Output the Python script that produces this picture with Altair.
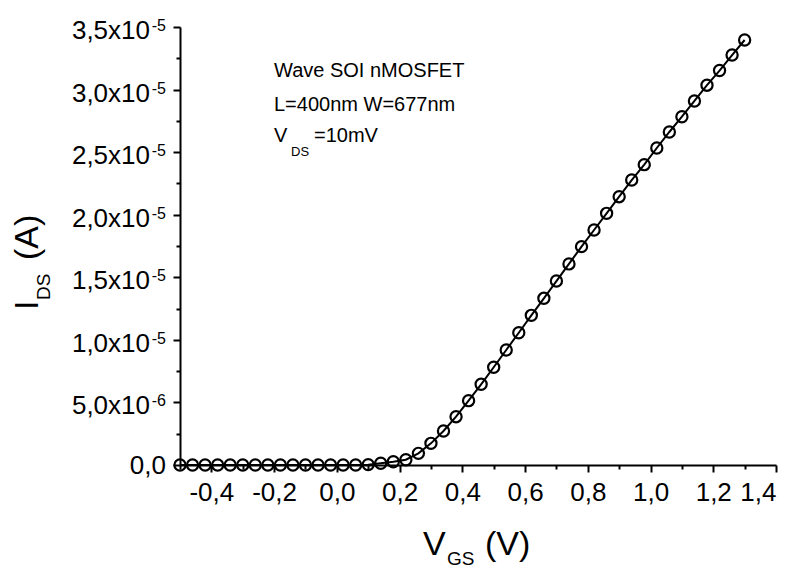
import altair as alt
import pandas as pd

# ---- data ----
vgs = [-0.50, -0.46, -0.42, -0.38, -0.34, -0.30, -0.26, -0.22, -0.18, -0.14,
       -0.10, -0.06, -0.02, 0.02, 0.06, 0.10, 0.14, 0.18, 0.22, 0.26,
       0.30, 0.34, 0.38, 0.42, 0.46, 0.50, 0.54, 0.58, 0.62, 0.66,
       0.70, 0.74, 0.78, 0.82, 0.86, 0.90, 0.94, 0.98, 1.02, 1.06,
       1.10, 1.14, 1.18, 1.22, 1.26, 1.30]
ids = [0.0, 0.0, 0.0, 0.0, 0.0, 0.0, 0.0, 0.0, 0.0, 0.0,
       0.0, 0.0, 0.0, 0.0, 0.0, 3e-8, 1.4e-7, 2.6e-7, 4.2e-7, 9.3e-7,
       1.73e-6, 2.72e-6, 3.86e-6, 5.14e-6, 6.45e-6, 7.81e-6, 9.19e-6, 1.057e-5, 1.196e-5, 1.332e-5,
       1.470e-5, 1.607e-5, 1.745e-5, 1.878e-5, 2.011e-5, 2.144e-5, 2.277e-5, 2.400e-5, 2.533e-5, 2.661e-5,
       2.783e-5, 2.909e-5, 3.035e-5, 3.152e-5, 3.276e-5, 3.396e-5]

x_major_ticks = [-0.4, -0.2, 0.0, 0.2, 0.4, 0.6, 0.8, 1.0, 1.2, 1.4]
x_minor_ticks = [-0.5, -0.3, -0.1, 0.1, 0.3, 0.5, 0.7, 0.9, 1.1, 1.3]
y_major_ticks = [0.0, 5e-6, 1e-5, 1.5e-5, 2e-5, 2.5e-5, 3e-5, 3.5e-5]
y_minor_ticks = [2.5e-6, 7.5e-6, 1.25e-5, 1.75e-5, 2.25e-5, 2.75e-5, 3.25e-5]
y_mantissa = ["5,0x10", "1,0x10", "1,5x10", "2,0x10", "2,5x10", "3,0x10", "3,5x10"]
y_exponent = ["-6", "-5", "-5", "-5", "-5", "-5", "-5"]
y_label_vals = [5e-6, 1e-5, 1.5e-5, 2e-5, 2.5e-5, 3e-5, 3.5e-5]

FONT = "Liberation Sans"

df = pd.DataFrame({"vgs": vgs, "ids": ids})
ylab = pd.DataFrame({"v": y_label_vals, "mant": y_mantissa, "exp": y_exponent})
zero = pd.DataFrame({"v": [0.0], "t": ["0,0"]})
one = pd.DataFrame({"a": [0]})

xs = alt.Scale(domain=[-0.5, 1.4], nice=False, zero=False)
ys = alt.Scale(domain=[0, 3.5e-5], nice=False, zero=False)

label_expr = "(datum.value < 0 ? '-' : '') + replace(format(abs(datum.value), '.1f'), '.', ',')"

x_major = alt.Axis(values=x_major_ticks, labelExpr=label_expr, orient="bottom",
                   tickSize=7, tickWidth=2, tickColor="black",
                   domainColor="black", domainWidth=2,
                   labelFont=FONT, labelFontSize=26, labelColor="black", labelPadding=7,
                   grid=False, title=None)
x_minor = alt.Axis(values=x_minor_ticks, orient="bottom", labels=False, domain=False,
                   tickSize=4, tickWidth=2, tickColor="black", grid=False, title=None)
y_major = alt.Axis(values=y_major_ticks, orient="left", labels=False,
                   tickSize=7, tickWidth=2, tickColor="black",
                   domainColor="black", domainWidth=2, grid=False, title=None)
y_minor = alt.Axis(values=y_minor_ticks, orient="left", labels=False, domain=False,
                   tickSize=4, tickWidth=2, tickColor="black", grid=False, title=None)

line = alt.Chart(df).mark_line(color="black", strokeWidth=2).encode(
    x=alt.X("vgs:Q", scale=xs, axis=x_major),
    y=alt.Y("ids:Q", scale=ys, axis=y_major),
)
pts = alt.Chart(df).mark_point(shape="circle", filled=False, color="black",
                               size=125, strokeWidth=2.2, opacity=1).encode(
    x=alt.X("vgs:Q", scale=xs, axis=x_minor),
    y=alt.Y("ids:Q", scale=ys, axis=y_minor),
)

mant = alt.Chart(ylab).mark_text(font=FONT, fontSize=26, align="right",
                                 baseline="alphabetic", dy=12, color="black").encode(
    x=alt.value(-30), y=alt.Y("v:Q", scale=ys, axis=None), text="mant:N")
expo = alt.Chart(ylab).mark_text(font=FONT, fontSize=16, align="right",
                                 baseline="alphabetic", dy=4, color="black").encode(
    x=alt.value(-14), y=alt.Y("v:Q", scale=ys, axis=None), text="exp:N")
zlab = alt.Chart(zero).mark_text(font=FONT, fontSize=26, align="right",
                                 baseline="alphabetic", dy=9, color="black").encode(
    x=alt.value(-14), y=alt.Y("v:Q", scale=ys, axis=None), text="t:N")


def txt(s, x, y, size, angle=0):
    kw = dict(font=FONT, fontSize=size, align="left", baseline="alphabetic", color="black")
    if angle:
        kw["angle"] = angle
    return alt.Chart(one).mark_text(text=s, **kw).encode(x=alt.value(x), y=alt.value(y))


ann = [
    txt("Wave SOI nMOSFET", 94, 50, 20),
    txt("L=400nm W=677nm", 94, 84, 20),
    txt("V", 94, 115, 20),
    txt("DS", 111, 129, 13),
    txt("=10mV", 134, 115, 20),
    # x-axis title
    txt("V", 243, 528, 34),
    txt("GS", 267, 538, 19),
    txt("(V)", 305, 528, 34),
    # y-axis title (rotated)
    txt("I", -142, 283, 34, 270),
    txt("DS", -130, 273, 19, 270),
    txt("(A)", -142, 233, 34, 270),
]

chart = alt.layer(line, pts, mant, expo, zlab, *ann).resolve_axis(
    x="independent", y="independent"
).properties(
    width=596, height=438,
    autosize=alt.AutoSizeParams(type="none"),
    padding={"left": 180, "top": 27, "right": 21, "bottom": 105},
    background="white",
).configure_view(stroke=None)

chart.save("out.html", embed_options={"renderer": "svg", "actions": False})
